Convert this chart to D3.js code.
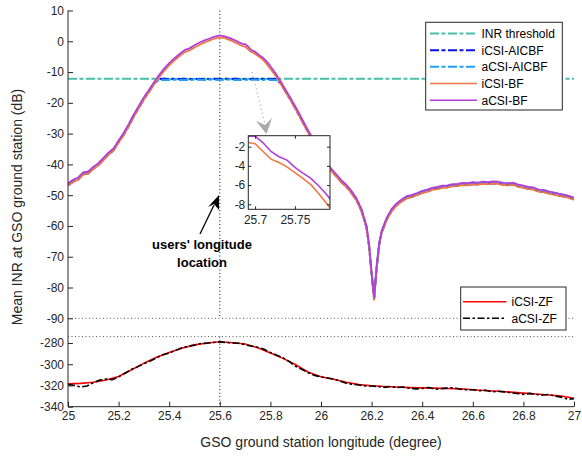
<!DOCTYPE html>
<html><head><meta charset="utf-8">
<script src="https://cdn.jsdelivr.net/npm/d3@7"></script>
<style>body{margin:0;background:#fff}svg{display:block}text{font-family:"Liberation Sans",Arial,sans-serif}</style>
</head><body><svg id="c" width="582" height="456"></svg>
<script>
// ---------- data ----------
const xBF = [25.00,25.02,25.04,25.06,25.08,25.10,25.12,25.14,25.16,25.18,25.20,25.22,25.24,25.26,25.28,25.30,25.32,25.34,25.36,25.38,25.40,25.42,25.44,25.46,25.48,25.50,25.52,25.54,25.56,25.58,25.60,25.62,25.64,25.66,25.68,25.69,25.70,25.71,25.72,25.73,25.74,25.75,25.76,25.77,25.78,25.79,25.80,25.82,25.84,25.86,25.88,25.90,25.92,25.94,25.96,25.98,26.00,26.02,26.04,26.06,26.08,26.10,26.12,26.14,26.16,26.18,26.19,26.20,26.21,26.22,26.23,26.24,26.26,26.28,26.30,26.32,26.34,26.36,26.38,26.40,26.42,26.44,26.46,26.48,26.50,26.52,26.54,26.56,26.58,26.60,26.62,26.64,26.66,26.68,26.70,26.72,26.74,26.76,26.78,26.80,26.82,26.84,26.86,26.88,26.90,26.92,26.94,26.96,26.98,27.00];
const aCSI_BF = [-46.2,-45.0,-44.3,-42.6,-42.3,-40.8,-39.6,-37.9,-36.2,-34.8,-32.2,-29.8,-26.9,-23.8,-21.0,-18.2,-15.8,-13.3,-11.0,-8.9,-7.1,-5.6,-4.2,-2.9,-2.3,-1.3,-0.4,0.3,0.9,1.5,1.9,1.6,1.0,0.3,-0.5,-0.9,-0.9,-1.6,-2.5,-3.05,-3.4,-4.15,-4.75,-5.3,-6.1,-7.0,-8.1,-10.4,-13.0,-15.8,-18.5,-21.4,-24.5,-27.6,-30.6,-33.7,-36.6,-39.0,-41.4,-43.2,-45.1,-46.6,-48.6,-51.0,-54.5,-60.0,-66.0,-75.0,-83.2,-73.0,-65.5,-61.5,-57.3,-54.4,-52.6,-51.3,-50.3,-49.9,-49.3,-48.6,-48.2,-47.6,-47.3,-46.9,-46.8,-46.4,-46.3,-46.0,-46.1,-45.8,-45.9,-45.6,-45.8,-45.5,-45.6,-46.0,-46.1,-46.0,-46.6,-46.9,-47.3,-47.5,-48.2,-48.3,-48.8,-49.1,-49.5,-49.8,-50.2,-50.8];
const iCSI_BF = [-46.9,-45.7,-45.0,-43.3,-43.0,-41.5,-40.3,-38.6,-36.9,-35.5,-32.9,-30.5,-27.6,-24.5,-21.7,-18.9,-16.5,-14.0,-11.7,-9.6,-7.8,-6.3,-4.9,-3.6,-3.0,-2.0,-1.1,-0.4,0.3,0.9,1.3,1.0,0.4,-0.4,-1.2,-1.55,-1.7,-2.5,-3.3,-3.65,-4.1,-4.7,-5.3,-5.95,-6.9,-7.95,-9.0,-11.1,-13.7,-16.5,-19.2,-22.1,-25.2,-28.3,-31.3,-34.4,-37.3,-39.7,-42.1,-43.9,-45.8,-47.3,-49.3,-51.7,-55.2,-60.7,-66.7,-75.7,-83.9,-73.7,-66.2,-62.2,-58.0,-55.1,-53.3,-52.0,-51.0,-50.6,-50.0,-49.3,-48.9,-48.3,-48.0,-47.6,-47.5,-47.1,-47.0,-46.7,-46.8,-46.5,-46.6,-46.3,-46.5,-46.2,-46.3,-46.7,-46.8,-46.7,-47.3,-47.6,-48.0,-48.2,-48.9,-49.0,-49.5,-49.8,-50.2,-50.5,-50.9,-51.5];
const aCSI_AICBF = [-46.4,-45.2,-44.5,-42.8,-42.5,-41.0,-39.8,-38.1,-36.4,-35.0,-32.4,-30.0,-27.1,-24.0,-21.2,-18.4,-16.0,-13.5,-12.6,-12.5,-12.6,-12.4,-12.6,-12.5,-12.6,-12.4,-12.5,-12.6,-12.4,-12.5,-12.6,-12.5,-12.4,-12.6,-12.5,-12.6,-12.4,-12.5,-12.6,-12.5,-12.4,-12.6,-12.5,-12.6,-12.4,-12.5,-12.6,-12.5,-13.2,-16.0,-18.7,-21.6,-24.7,-27.8,-30.8,-33.9,-36.8,-39.2,-41.6,-43.4,-45.3,-46.8,-48.8,-51.2,-54.7,-60.2,-66.2,-75.2,-83.4,-73.2,-65.7,-61.7,-57.5,-54.6,-52.8,-51.5,-50.5,-50.1,-49.5,-48.8,-48.4,-47.8,-47.5,-47.1,-47.0,-46.6,-46.5,-46.2,-46.3,-46.0,-46.1,-45.8,-46.0,-45.7,-45.8,-46.2,-46.3,-46.2,-46.8,-47.1,-47.5,-47.7,-48.4,-48.5,-49.0,-49.3,-49.7,-50.0,-50.4,-51.0];
const iCSI_AICBF = [-46.8,-45.6,-44.9,-43.2,-42.9,-41.4,-40.2,-38.5,-36.8,-35.4,-32.8,-30.4,-27.5,-24.4,-21.6,-18.8,-16.4,-13.9,-12.3,-12.2,-12.3,-12.2,-12.3,-12.2,-12.3,-12.2,-12.3,-12.2,-12.3,-12.2,-12.3,-12.2,-12.3,-12.2,-12.3,-12.2,-12.3,-12.2,-12.3,-12.2,-12.3,-12.2,-12.3,-12.2,-12.3,-12.2,-12.3,-12.2,-13.6,-16.4,-19.1,-22.0,-25.1,-28.2,-31.2,-34.3,-37.2,-39.6,-42.0,-43.8,-45.7,-47.2,-49.2,-51.6,-55.1,-60.6,-66.6,-75.6,-83.8,-73.6,-66.1,-62.1,-57.9,-55.0,-53.2,-51.9,-50.9,-50.5,-49.9,-49.2,-48.8,-48.2,-47.9,-47.5,-47.4,-47.0,-46.9,-46.6,-46.7,-46.4,-46.5,-46.2,-46.4,-46.1,-46.2,-46.6,-46.7,-46.6,-47.2,-47.5,-47.9,-48.1,-48.8,-48.9,-49.4,-49.7,-50.1,-50.4,-50.8,-51.4];
const inrThreshold = -12.2;
const userLon = 25.6;

const xZFi = [25.00,25.05,25.10,25.15,25.20,25.25,25.30,25.35,25.40,25.45,25.50,25.55,25.60,25.65,25.70,25.75,25.80,25.85,25.90,25.95,26.00,26.05,26.10,26.15,26.20,26.25,26.30,26.35,26.40,26.45,26.50,26.55,26.60,26.65,26.70,26.75,26.80,26.85,26.90,26.95,27.00];
const iCSI_ZF = [-318.5,-318.0,-317.0,-314.8,-311.5,-305.5,-299.0,-293.5,-289.0,-285.0,-281.8,-280.0,-278.8,-279.8,-281.0,-284.5,-289.5,-294.5,-300.5,-307.5,-311.8,-314.2,-317.0,-319.2,-320.3,-321.0,-321.5,-322.0,-322.3,-322.5,-322.8,-323.2,-324.0,-324.8,-325.5,-326.3,-327.2,-328.0,-329.0,-330.0,-332.0];
const xZFa = [25.000,25.025,25.050,25.075,25.100,25.125,25.150,25.175,25.200,25.225,25.250,25.275,25.300,25.325,25.350,25.375,25.400,25.425,25.450,25.475,25.500,25.525,25.550,25.575,25.600,25.625,25.650,25.675,25.700,25.725,25.750,25.775,25.800,25.825,25.850,25.875,25.900,25.925,25.950,25.975,26.000,26.025,26.050,26.075,26.100,26.125,26.150,26.175,26.200,26.225,26.250,26.275,26.300,26.325,26.350,26.375,26.400,26.425,26.450,26.475,26.500,26.525,26.550,26.575,26.600,26.625,26.650,26.675,26.700,26.725,26.750,26.775,26.800,26.825,26.850,26.875,26.900,26.925,26.950,26.975,27.000];
const aCSI_ZF = [-319,-320,-321.5,-320.5,-317.5,-315,-314,-314.5,-312,-308.5,-305,-302.5,-299.5,-297,-294,-291,-289.5,-287,-284.5,-283,-282,-280.5,-280.2,-279.5,-279,-279.5,-280,-280.2,-281.5,-283,-284,-286,-289,-291.5,-294,-297.5,-302,-305,-308,-310.5,-312,-313,-314,-316,-318,-319,-319.5,-320.5,-320.5,-321,-321.8,-321,-322,-321.5,-322.5,-323.2,-322.8,-322,-323.5,-323,-322.5,-322,-323.5,-324,-324,-325,-324.5,-326,-325.5,-326,-326.8,-327.5,-328.5,-327.5,-328.5,-329,-328.5,-330,-331,-333,-332.5];

const xTicks = [25,25.2,25.4,25.6,25.8,26,26.2,26.4,26.6,26.8,27];
const yTicksUpper = [10,0,-10,-20,-30,-40,-50,-60,-70,-80,-90];
const yTicksLower = [-280,-300,-320,-340];
const insetXTicks = [25.7,25.75];
const insetYTicks = [-2,-4,-6,-8];

const seriesUpper = [
  {name:"iCSI-AICBF", y:iCSI_AICBF, color:"#0a10e8", dash:"9,2.5,4,2.5", w:2},
  {name:"aCSI-AICBF", y:aCSI_AICBF, color:"#1ea0ff", dash:"9,2.5,4,2.5", w:2},
  {name:"iCSI-BF", y:iCSI_BF, color:"#f07840", dash:null, w:1.8},
  {name:"aCSI-BF", y:aCSI_BF, color:"#b040d8", dash:null, w:1.8}
];

// ---------- drawing ----------
const svg = d3.select("#c");
const ink = "#262626";
const x = d3.scaleLinear([25,27],[68,574]);
const yU = d3.scaleLinear([-90,10],[318.3,10.5]);
const yL = d3.scaleLinear([-340,-274],[406.7,336.6]);

const defs = svg.append("defs");
defs.append("clipPath").attr("id","cu").append("rect").attr("x",68).attr("y",10).attr("width",506).attr("height",309);
defs.append("clipPath").attr("id","cl").append("rect").attr("x",68).attr("y",336).attr("width",506).attr("height",71);

const dotted = (g,x1,y1,x2,y2,c)=>g.append("line").attr("x1",x1).attr("y1",y1).attr("x2",x2).attr("y2",y2)
  .attr("stroke",c).attr("stroke-width",1).attr("stroke-dasharray","1,2.5");

// dotted guide lines
dotted(svg, x(25), yU(-90), x(27), yU(-90), "#555");
dotted(svg, x(25), yL(-274), x(27), yL(-274), "#555");
dotted(svg, x(userLon), yU(10), x(userLon), yU(-90), "#111");
dotted(svg, x(userLon), yL(-274), x(userLon), yL(-340), "#111");

// threshold
const gU = svg.append("g").attr("clip-path","url(#cu)");
gU.append("line").attr("x1",x(25)).attr("x2",x(27)).attr("y1",yU(inrThreshold)).attr("y2",yU(inrThreshold))
  .attr("stroke","#48bfa8").attr("stroke-width",2).attr("stroke-dasharray","9,2.5,4,2.5");

const lineU = ys => d3.line().x((d,i)=>x(xBF[i])).y(d=>yU(d))(ys);
seriesUpper.forEach(s=>{
  gU.append("path").attr("d",lineU(s.y)).attr("fill","none").attr("stroke",s.color)
    .attr("stroke-width",s.w).attr("stroke-dasharray",s.dash).attr("stroke-linejoin","round");
});

// lower panel ZF
const gL = svg.append("g").attr("clip-path","url(#cl)");
gL.append("path").attr("d",d3.line().x((d,i)=>x(xZFi[i])).y(d=>yL(d))(iCSI_ZF))
  .attr("fill","none").attr("stroke","#ff0000").attr("stroke-width",1.6);
gL.append("path").attr("d",d3.line().x((d,i)=>x(xZFa[i])).y(d=>yL(d))(aCSI_ZF))
  .attr("fill","none").attr("stroke","#000").attr("stroke-width",1.6).attr("stroke-dasharray","7,2.5,2.5,2.5");

// axes
const styleAxis = g=>{g.select(".domain").remove();g.selectAll("line").attr("stroke",ink);g.selectAll("text").attr("fill",ink).style("font-size","12px").style("font-family","'Liberation Sans',Arial,sans-serif");};
svg.append("g").attr("transform","translate(68,0)").call(d3.axisLeft(yU).tickValues(yTicksUpper).tickSize(-5).tickPadding(4).tickFormat(d3.format("d"))).call(styleAxis);
svg.append("g").attr("transform","translate(68,0)").call(d3.axisLeft(yL).tickValues(yTicksLower).tickSize(-5).tickPadding(4).tickFormat(d3.format("d"))).call(styleAxis);
svg.append("g").attr("transform","translate(0,406.7)").call(d3.axisBottom(x).tickValues(xTicks).tickSize(-5).tickPadding(5).tickFormat(d=>String(d))).call(styleAxis);
svg.selectAll(".tick text").text(function(){return this.textContent.replace("−","-");});
svg.append("line").attr("x1",68).attr("x2",68).attr("y1",10.5).attr("y2",406.7).attr("stroke",ink).attr("stroke-width",1);
svg.append("line").attr("x1",68).attr("x2",574).attr("y1",406.7).attr("y2",406.7).attr("stroke",ink).attr("stroke-width",1);

// axis labels
svg.append("text").attr("x",321).attr("y",447).attr("text-anchor","middle").attr("fill",ink).style("font-size","14px").text("GSO ground station longitude (degree)");
svg.append("text").attr("transform","translate(22,207) rotate(-90)").attr("text-anchor","middle").attr("fill",ink).style("font-size","14px").text("Mean INR at GSO ground station (dB)");

// gray zoom pointer
svg.append("line").attr("x1",252).attr("y1",72).attr("x2",265).attr("y2",124).attr("stroke","#b0b0b0").attr("stroke-width",1.2).attr("stroke-dasharray","1.2,3");
svg.append("path").attr("d","M266.5,134 L256,121 L265,125 L272,118 Z").attr("fill","#a8a8a8");

// inset
const ix = d3.scaleLinear([25.6915,25.794],[248.3,330]);
const iy = d3.scaleLinear([-8.52,-0.86],[209.3,135.7]);
const gI = svg.append("g");
gI.append("rect").attr("x",248.3).attr("y",135.7).attr("width",81.7).attr("height",73.6).attr("fill","#fff");
defs.append("clipPath").attr("id","ci").append("rect").attr("x",248.3).attr("y",135.7).attr("width",81.7).attr("height",73.6);
const gIc = gI.append("g").attr("clip-path","url(#ci)");
[{y:iCSI_BF,c:"#f07840"},{y:aCSI_BF,c:"#b040d8"}].forEach(s=>{
  gIc.append("path").attr("d",d3.line().x((d,i)=>ix(xBF[i])).y(d=>iy(d))(s.y)).attr("fill","none").attr("stroke",s.c).attr("stroke-width",1.6);
});
const sI = g=>{g.select(".domain").remove();g.selectAll("line").attr("stroke",ink);g.selectAll("text").attr("fill",ink).style("font-size","12px");};
gI.append("g").attr("transform","translate(248.3,0)").call(d3.axisLeft(iy).tickValues(insetYTicks).tickSize(-3).tickPadding(3).tickFormat(d3.format("d"))).call(sI);
gI.append("g").attr("transform","translate(330,0)").call(d3.axisRight(iy).tickValues(insetYTicks).tickSize(-3).tickFormat("")).call(sI);
gI.append("g").attr("transform","translate(0,209.3)").call(d3.axisBottom(ix).tickValues(insetXTicks).tickSize(-3).tickPadding(6).tickFormat(d=>String(d))).call(sI);
gI.append("g").attr("transform","translate(0,135.7)").call(d3.axisTop(ix).tickValues(insetXTicks).tickSize(-3).tickFormat("")).call(sI);
gI.selectAll(".tick text").text(function(){return this.textContent.replace("−","-");});
gI.append("rect").attr("x",248.3).attr("y",135.7).attr("width",81.7).attr("height",73.6).attr("fill","none").attr("stroke",ink).attr("stroke-width",1);

// black annotation arrow
svg.append("line").attr("x1",200).attr("y1",234).attr("x2",214).attr("y2",205).attr("stroke","#000").attr("stroke-width",1.3);
svg.append("path").attr("d","M219,195 L208,207 L214,204 L219,210 Z").attr("fill","#000");
svg.append("text").attr("x",202).attr("y",249).attr("text-anchor","middle").style("font-size","13px").style("font-weight","bold").text("users' longitude");
svg.append("text").attr("x",202).attr("y",267).attr("text-anchor","middle").style("font-size","13px").style("font-weight","bold").text("location");

// legends
function legend(x0,y0,w,h,items,lx1,lx2,tx){
  const g = svg.append("g");
  g.append("rect").attr("x",x0).attr("y",y0).attr("width",w).attr("height",h).attr("fill","#fff").attr("stroke",ink).attr("stroke-width",1);
  items.forEach(it=>{
    g.append("line").attr("x1",lx1).attr("x2",lx2).attr("y1",it.y).attr("y2",it.y).attr("stroke",it.color).attr("stroke-width",it.w).attr("stroke-dasharray",it.dash);
    g.append("text").attr("x",tx).attr("y",it.y+4.3).attr("fill","#000").style("font-size","12px").text(it.name);
  });
}
legend(425.7,22.3,136.6,87.7,[
  {name:"INR threshold",color:"#48bfa8",dash:"9,2.5,4,2.5",w:2,y:33.5},
  {name:"iCSI-AICBF",color:"#0a10e8",dash:"9,2.5,4,2.5",w:2,y:50.2},
  {name:"aCSI-AICBF",color:"#1ea0ff",dash:"9,2.5,4,2.5",w:2,y:66.8},
  {name:"iCSI-BF",color:"#f07840",dash:null,w:1.6,y:83.5},
  {name:"aCSI-BF",color:"#b040d8",dash:null,w:1.6,y:100.2}
],430,477,481.5);
legend(460.7,287,105.3,43,[
  {name:"iCSI-ZF",color:"#ff0000",dash:null,w:1.6,y:301.7},
  {name:"aCSI-ZF",color:"#000",dash:"7,2.5,2.5,2.5",w:1.6,y:318.3}
],463,506.5,511.5);
</script></body></html>
